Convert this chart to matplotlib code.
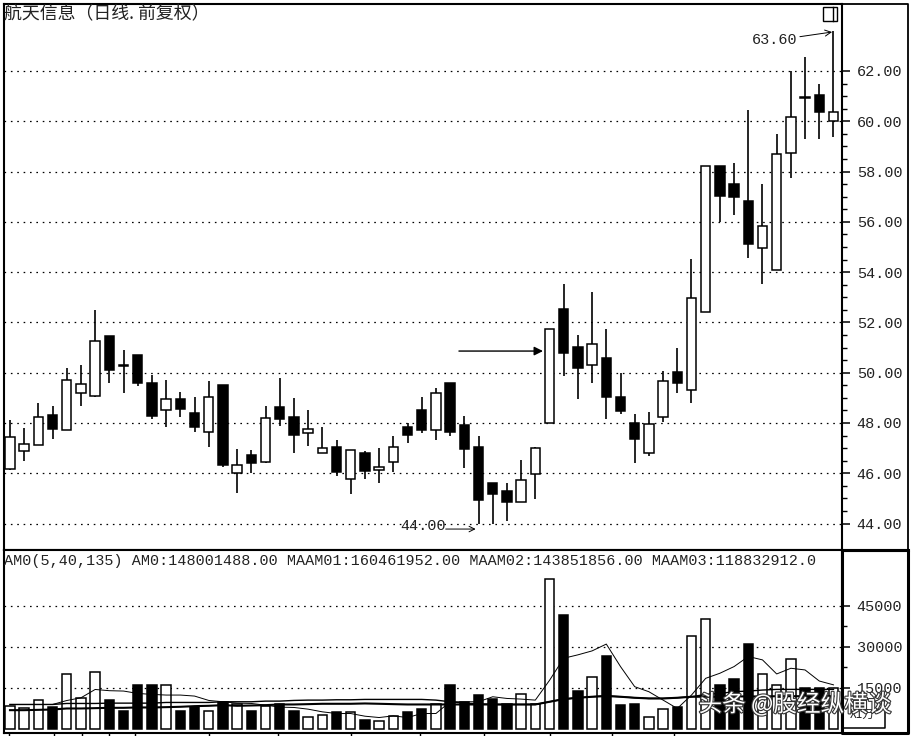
import matplotlib
matplotlib.use("Agg")
import matplotlib.pyplot as plt
import matplotlib.patheffects as pe
from matplotlib.patches import Rectangle

W, H = 912, 736
MONO = "Liberation Mono"
CJK = ["Noto Sans CJK SC", "DejaVu Sans"]

# candle values, left to right
opens = [46.16, 46.87, 47.11, 48.31, 47.72, 49.21, 49.08, 51.45, 50.30, 50.71,
         49.60, 48.51, 48.97, 48.40, 47.65, 49.51, 46.01, 46.71, 46.44, 48.63,
         48.25, 47.60, 46.80, 47.05, 45.77, 46.81, 46.11, 46.45, 47.84, 48.51,
         47.72, 49.60, 47.91, 47.04, 45.61, 45.31, 44.87, 45.96, 48.00, 52.53,
         51.04, 50.31, 50.60, 49.05, 48.00, 46.80, 48.25, 50.04, 49.33, 52.43,
         58.24, 57.51, 56.81, 54.94, 54.09, 58.74, 60.98, 61.03, 60.01]
closes = [47.43, 47.16, 48.24, 47.77, 49.71, 49.55, 51.27, 50.11, 50.25, 49.60,
          48.29, 48.97, 48.56, 47.83, 49.04, 46.33, 46.33, 46.39, 48.19, 48.17,
          47.53, 47.77, 46.99, 46.04, 46.92, 46.09, 46.23, 47.04, 47.53, 47.71,
          49.21, 47.64, 46.97, 44.95, 45.19, 44.85, 45.72, 46.99, 51.73, 50.80,
          50.17, 51.16, 49.03, 48.49, 47.36, 47.96, 49.65, 49.60, 52.98, 58.24,
          57.02, 56.97, 55.10, 55.83, 58.69, 60.16, 60.91, 60.38, 60.37]
highs = [48.13, 47.79, 48.81, 48.69, 50.19, 50.32, 52.49, 51.45, 50.91, 50.71,
         49.89, 49.72, 49.23, 49.04, 49.67, 49.51, 46.97, 46.93, 48.69, 49.77,
         48.99, 48.51, 47.84, 47.31, 46.92, 46.87, 47.00, 47.49, 48.00, 49.04,
         49.40, 49.60, 48.27, 47.49, 45.61, 45.61, 46.52, 47.04, 51.73, 53.51,
         51.51, 53.20, 51.73, 50.00, 48.36, 48.45, 50.07, 50.97, 54.53, 58.24,
         58.24, 58.36, 60.46, 57.51, 59.48, 62.00, 62.56, 61.47, 63.60]
lows = [46.13, 46.49, 47.11, 47.36, 47.72, 48.67, 49.05, 49.60, 49.20, 49.49,
        48.17, 47.83, 48.24, 47.64, 47.03, 46.23, 45.20, 46.01, 46.41, 47.88,
        46.80, 47.09, 46.80, 45.89, 45.19, 45.77, 45.60, 46.04, 47.20, 47.60,
        47.31, 47.47, 46.20, 44.00, 44.00, 44.09, 44.87, 44.96, 48.00, 49.87,
        48.97, 49.60, 48.17, 48.36, 46.40, 46.67, 48.04, 49.20, 48.80, 52.43,
        56.00, 56.29, 54.58, 53.51, 54.09, 57.75, 59.30, 59.30, 59.36]

# amount bars and their averages
amount = [8400, 7500, 10600, 8100, 20000, 11300, 20650, 10600, 6500, 16000,
          16000, 16000, 6500, 7750, 6500, 9800, 8850, 6500, 8360, 8850,
          6500, 4300, 4900, 6000, 6000, 3300, 2700, 4800, 6000, 7100,
          8850, 16000, 9600, 12300, 10800, 8850, 12800, 9100, 55000, 41800,
          13900, 19000, 26700, 8600, 9100, 4300, 7100, 7750, 33900, 40300,
          16000, 18300, 31200, 20000, 16000, 25500, 14750, 14750, 14800]
ma1 = [8850, 8850, 8850, 8850, 10300, 11300, 14350, 13900, 13770, 12900,
       12540, 12300, 12300, 11930, 10330, 9840, 9340, 9220, 8600, 7870,
       7750, 7130, 6150, 5530, 5530, 4550, 4060, 4670, 4060, 5530,
       5530, 9840, 9840, 9840, 11680, 11060, 10820, 10450, 17700, 25800,
       27050, 28500, 31000, 22750, 15370, 13520, 10450, 7380, 12300, 18440,
       20300, 22750, 26440, 25200, 20040, 22130, 21510, 17450, 16046]
ma2 = [8850, 8850, 8850, 8850, 9220, 9220, 9220, 9340, 9340, 9340,
       9340, 9590, 9590, 9590, 9590, 9840, 9840, 9840, 10080, 10080,
       10330, 10450, 10450, 10570, 10570, 10700, 10700, 10700, 10700, 10700,
       10450, 9840, 9340, 9100, 8850, 8850, 8850, 8850, 9840, 10820,
       11310, 11680, 12050, 11680, 11310, 11060, 11060, 11310, 11680, 12540,
       12910, 13520, 13770, 14140, 14380, 14380, 14380, 14380, 14385]
ma3 = [6760, 6760, 6880, 7000, 7380, 7380, 7500, 7620, 7620, 7750,
       7750, 7870, 8000, 8240, 8360, 8600, 8360, 8480, 8600, 8850,
       8850, 8970, 9100, 9100, 9100, 9220, 9100, 8970, 8850, 8850,
       8850, 8850, 8850, 8850, 8850, 8850, 8850, 8850, 9840, 10820,
       11310, 11680, 11930, 11680, 11310, 11060, 11060, 11310, 11680, 11680,
       11680, 11800, 11800, 11800, 11880, 11880, 11880, 11880, 11883]

price_ticks = [44, 46, 48, 50, 52, 54, 56, 58, 60, 62]
amount_ticks = [15000, 30000, 45000]
date_ticks = [-0.07, 3.1, 5.1, 7.0, 8.8, 14.0, 18.9, 24.0, 28.9, 33.4, 38.0, 42.4, 46.8]
header = "AM0(5,40,135) AM0:148001488.00 MAAM01:160461952.00 MAAM02:143851856.00 MAAM03:118832912.0"
title = "航天信息（日线. 前复权）"
watermark = "头条 @股经纵横谈"


def panel(left, top, right, bottom):
    return fig.add_axes([left / W, 1 - bottom / H, (right - left) / W, (bottom - top) / H])


def frame_line(xs, ys, lw):
    fig.add_artist(plt.Line2D([x / W for x in xs], [1 - y / H for y in ys], color="black", lw=lw))


def style_axis(ax, ticks, fmt, minor_step):
    ax.set_xlim(-0.42, 58.6)
    ax.set_xticks([])
    ax.yaxis.tick_right()
    ax.set_yticks(ticks)
    ax.set_yticklabels([fmt % t for t in ticks], family=MONO, fontsize=10.9, color="#222222")
    # minor ticks only between the labelled values
    minors = []
    v = ticks[0]
    while v < ticks[-1]:
        minors.append(v)
        v += minor_step
    ax.set_yticks(minors, minor=True)
    ax.tick_params(axis="y", which="major", length=6, width=1.1, pad=4.6, direction="out")
    ax.tick_params(axis="y", which="minor", length=3.5, width=1.0)
    ax.grid(axis="y", color="black", lw=0.9, linestyle=(0, (1.3, 3.8)))
    ax.set_axisbelow(True)
    for s in ax.spines.values():
        s.set_linewidth(1.5)


fig = plt.figure(figsize=(W / 100, H / 100), dpi=100, facecolor="white")

# price panel
ax1 = panel(4, 4, 842, 550)
ax1.set_ylim(62 - (550 - 71) / 25.14, 62 + (71 - 4) / 25.14)
style_axis(ax1, price_ticks, "%.2f", 0.5)

for i in range(len(opens)):
    up = closes[i] >= opens[i]
    ax1.vlines(i, lows[i], highs[i], color="black", lw=1.2, zorder=2)
    ax1.bar(i, abs(closes[i] - opens[i]), bottom=min(opens[i], closes[i]), width=0.66,
            facecolor="white" if up else "black", edgecolor="black", linewidth=1.1, zorder=3)

ax1.text(0, 0.9985, title, transform=ax1.transAxes, family=CJK, fontsize=12.9, color="#222222",
         va="top", ha="left")

ax1.annotate("63.60", xy=(57.9, 63.55), xytext=(-58, -6), textcoords="offset points",
             family=MONO, fontsize=10.9, color="#222222", va="center", ha="left",
             arrowprops=dict(arrowstyle="->", lw=0.7, color="black", shrinkA=0, shrinkB=0))
ax1.text(27.46, 43.9, "44.00", family=MONO, fontsize=10.9, color="#222222", va="center", ha="left")
ax1.annotate("", xy=(32.8, 43.78), xytext=(-21.6, 0), textcoords="offset points",
             arrowprops=dict(arrowstyle="->", lw=0.7, color="black", shrinkA=0, shrinkB=0))
ax1.annotate("", xy=(37.54, 50.86), xytext=(-60.5, 0), textcoords="offset points",
             arrowprops=dict(arrowstyle="-|>", lw=1.0, color="black", shrinkA=0, shrinkB=0,
                             mutation_scale=13))

# little window buttons
ax1.add_patch(Rectangle((0.977, 0.969), 0.0167, 0.0255, transform=ax1.transAxes, fill=False,
                        edgecolor="black", lw=1.0, zorder=5))
ax1.plot([0.9889, 0.9889], [0.969, 0.9945], transform=ax1.transAxes, color="black", lw=1.0, zorder=5)

# amount panel
ax2 = panel(4, 550, 842, 733)
ax2.set_ylim(-(733 - 728.6) / 40.9 * 15000, (728.6 - 550) / 40.9 * 15000)
style_axis(ax2, amount_ticks, "%d", 7500)

for i in range(len(amount)):
    up = closes[i] >= opens[i]
    ax2.bar(i, amount[i], width=0.66, facecolor="white" if up else "black",
            edgecolor="black", linewidth=1.1, zorder=3)

xs = range(len(amount))
ax2.plot(xs, ma1, color="black", lw=0.7, zorder=4)
ax2.plot(xs, ma2, color="black", lw=1.0, zorder=4)
ax2.plot(xs, ma3, color="black", lw=1.5, zorder=4)

ax2.text(0, 0.98, header, transform=ax2.transAxes, family=MONO, fontsize=10.87, color="#222222",
         va="top", ha="left")
ax2.text(1.0095, 0.1, "X1万", transform=ax2.transAxes, family=CJK, fontsize=8.5, color="#222222",
         va="center", ha="left", clip_on=False)

# date ticks cut off by the lower edge of the picture
ax2.vlines(date_ticks, -0.03, 0, transform=ax2.get_xaxis_transform(), color="black", lw=1.0,
           clip_on=False)

# outer frame on the right, heavier round the amount scale
frame_line([842, 908, 908], [4, 4, 550], 1.3)
frame_line([842, 908, 908, 842, 842, 908], [550, 550, 733, 733, 550, 550], 2.2)
frame_line([885, 885, 842], [708, 728, 728], 1.1)

fig.text(795 / W, 1 - 704 / H, watermark, family=CJK, fontsize=17, color="white", ha="center", va="center",
         path_effects=[pe.withStroke(linewidth=1.6, foreground="#333333")], zorder=10)

fig.savefig("out.png", dpi=100)
